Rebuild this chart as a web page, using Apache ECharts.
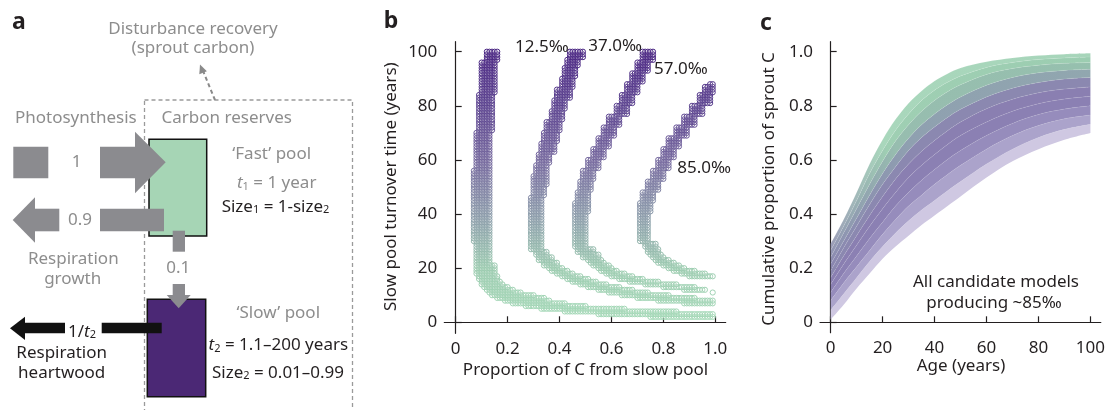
<!DOCTYPE html>
<html>
<head>
<meta charset="utf-8">
<script src="https://cdn.jsdelivr.net/npm/echarts@6/dist/echarts.min.js"></script>
<style>
  html, body { margin: 0; padding: 0; background: #fff; }
  #main { width: 1108px; height: 410px; }
</style>
</head>
<body>
<div id="main"></div>
<script>
// ---- panel b: candidate models, blocks of [t2 from, t2 to, size2 from, size2 to] ----
const band125 = [
  [2, 2, 0.75, 0.99], [3, 3, 0.55, 0.99], [4, 4, 0.42, 0.85], [5, 5, 0.33, 0.65],
  [6, 6, 0.27, 0.50], [7, 7, 0.22, 0.42], [8, 8, 0.19, 0.36], [9, 9, 0.16, 0.34],
  [10, 10, 0.14, 0.30], [11, 11, 0.13, 0.25], [12, 12, 0.12, 0.22], [13, 13, 0.11, 0.20],
  [14, 14, 0.10, 0.18], [15, 15, 0.10, 0.17], [16, 17, 0.09, 0.16], [18, 21, 0.08, 0.15],
  [22, 29, 0.08, 0.13], [30, 56, 0.07, 0.13], [57, 70, 0.08, 0.13], [71, 84, 0.09, 0.14],
  [85, 96, 0.10, 0.15], [97, 100, 0.12, 0.16]
];
const band370 = [
  [7, 7, 0.88, 0.99], [8, 8, 0.78, 0.99], [9, 9, 0.70, 0.92], [10, 10, 0.64, 0.82],
  [11, 11, 0.59, 0.74], [12, 12, 0.55, 0.68], [13, 13, 0.51, 0.63], [14, 14, 0.48, 0.58],
  [15, 15, 0.45, 0.54], [16, 16, 0.43, 0.51], [17, 17, 0.41, 0.48], [18, 18, 0.39, 0.45],
  [19, 19, 0.37, 0.43], [20, 20, 0.36, 0.41], [21, 22, 0.34, 0.39], [23, 24, 0.32, 0.37],
  [25, 26, 0.31, 0.35], [27, 46, 0.29, 0.33], [47, 50, 0.30, 0.34], [51, 54, 0.30, 0.35],
  [55, 58, 0.31, 0.35], [59, 62, 0.32, 0.36], [63, 66, 0.33, 0.38], [67, 70, 0.34, 0.39],
  [71, 74, 0.35, 0.40], [75, 78, 0.37, 0.41], [79, 82, 0.38, 0.42], [83, 86, 0.39, 0.44],
  [87, 90, 0.41, 0.45], [91, 94, 0.42, 0.46], [95, 97, 0.43, 0.47], [98, 100, 0.44, 0.49]
];
const band570 = [
  [11, 11, 0.99, 0.99], [12, 12, 0.88, 0.96], [13, 13, 0.80, 0.92], [14, 14, 0.73, 0.85],
  [15, 15, 0.67, 0.78], [16, 16, 0.63, 0.72], [17, 17, 0.60, 0.68], [18, 18, 0.58, 0.65],
  [19, 19, 0.56, 0.62], [20, 20, 0.55, 0.60], [21, 21, 0.53, 0.59], [22, 22, 0.52, 0.57],
  [23, 23, 0.51, 0.56], [24, 25, 0.49, 0.55], [26, 27, 0.47, 0.53], [28, 40, 0.46, 0.50],
  [41, 44, 0.46, 0.51], [45, 48, 0.47, 0.51], [49, 52, 0.48, 0.52], [53, 56, 0.49, 0.53],
  [57, 60, 0.51, 0.55], [61, 64, 0.53, 0.57], [65, 68, 0.55, 0.59], [69, 72, 0.57, 0.61],
  [73, 76, 0.59, 0.63], [77, 80, 0.62, 0.66], [81, 84, 0.64, 0.68], [85, 88, 0.66, 0.70],
  [89, 92, 0.68, 0.72], [93, 96, 0.70, 0.74], [97, 100, 0.72, 0.76]
];
const band850 = [
  [17, 17, 0.90, 0.99], [18, 18, 0.87, 0.96], [19, 19, 0.84, 0.92], [20, 20, 0.82, 0.88],
  [21, 21, 0.80, 0.86], [22, 22, 0.78, 0.84], [23, 23, 0.77, 0.82], [24, 24, 0.76, 0.80],
  [25, 25, 0.75, 0.79], [26, 27, 0.74, 0.78], [28, 29, 0.73, 0.77], [30, 40, 0.71, 0.74],
  [41, 44, 0.71, 0.75], [45, 48, 0.72, 0.76], [49, 52, 0.74, 0.78], [53, 56, 0.76, 0.80],
  [57, 60, 0.78, 0.82], [61, 64, 0.80, 0.84], [65, 68, 0.82, 0.86], [69, 72, 0.85, 0.89],
  [73, 76, 0.88, 0.92], [77, 80, 0.91, 0.95], [81, 84, 0.94, 0.98], [85, 87, 0.96, 0.99],
  [88, 88, 0.98, 0.99]
];
const bandLabels = ['12.5‰', '37.0‰', '57.0‰', '85.0‰'];
const ticksB_x = [0, 0.2, 0.4, 0.6, 0.8, 1.0];
const ticksB_y = [0, 20, 40, 60, 80, 100];

// ---- panel c: cumulative proportion of sprout C, curves read top to bottom ----
const ages = [0, 5, 10, 15, 20, 25, 30, 35, 40, 45, 50, 60, 70, 80, 90, 100];
const sproutCurves = [
  [0.29, 0.38, 0.48, 0.585, 0.675, 0.75, 0.81, 0.855, 0.892, 0.919, 0.94, 0.963, 0.977, 0.986, 0.991, 0.994],
  [0.265, 0.355, 0.45, 0.55, 0.635, 0.71, 0.77, 0.82, 0.858, 0.887, 0.91, 0.942, 0.96, 0.971, 0.977, 0.98],
  [0.24, 0.33, 0.42, 0.51, 0.595, 0.67, 0.73, 0.78, 0.82, 0.852, 0.878, 0.916, 0.938, 0.95, 0.957, 0.96],
  [0.215, 0.30, 0.385, 0.47, 0.55, 0.62, 0.68, 0.73, 0.77, 0.804, 0.833, 0.876, 0.905, 0.922, 0.931, 0.935],
  [0.19, 0.275, 0.355, 0.435, 0.51, 0.575, 0.635, 0.683, 0.722, 0.757, 0.787, 0.833, 0.865, 0.886, 0.899, 0.905],
  [0.165, 0.245, 0.32, 0.395, 0.465, 0.53, 0.585, 0.632, 0.672, 0.708, 0.74, 0.789, 0.824, 0.848, 0.862, 0.87],
  [0.14, 0.215, 0.285, 0.355, 0.42, 0.48, 0.535, 0.58, 0.62, 0.657, 0.69, 0.74, 0.78, 0.808, 0.825, 0.835],
  [0.11, 0.18, 0.245, 0.31, 0.37, 0.43, 0.48, 0.525, 0.565, 0.602, 0.635, 0.69, 0.735, 0.768, 0.788, 0.80],
  [0.08, 0.145, 0.205, 0.265, 0.325, 0.38, 0.43, 0.47, 0.51, 0.546, 0.58, 0.64, 0.69, 0.727, 0.752, 0.766],
  [0.045, 0.105, 0.165, 0.225, 0.28, 0.33, 0.375, 0.415, 0.45, 0.486, 0.52, 0.585, 0.64, 0.683, 0.713, 0.732],
  [0.01, 0.065, 0.125, 0.18, 0.235, 0.28, 0.32, 0.36, 0.395, 0.43, 0.465, 0.535, 0.595, 0.64, 0.675, 0.70]
];
const ticksC_x = [0, 20, 40, 60, 80, 100];
const ticksC_y = [0, 0.2, 0.4, 0.6, 0.8, 1.0];

const FONT = '"Noto Sans", "DejaVu Sans", sans-serif';
const FS = 17;
const INK = '#231f20';
const GREY = '#8d8d8d';
const ARROW = '#8b8b8f';

function expandBand(blocks) {
  const pts = [];
  blocks.forEach(function (b) {
    for (let t = b[0]; t <= b[1]; t++) {
      for (let k = Math.round(b[2] * 100); k <= Math.round(b[3] * 100); k++) {
        pts.push([k / 100, t]);
      }
    }
  });
  return pts;
}

function ringItem(params, api) {
  const p = api.coord([api.value(0), api.value(1)]);
  return {
    type: 'circle',
    shape: { cx: p[0], cy: p[1], r: 2.6 },
    style: { fill: 'rgba(255,255,255,0.15)', stroke: api.visual('color'), lineWidth: 1 }
  };
}

function grad(stops) {
  return new echarts.graphic.LinearGradient(0, 0, 1, 0,
    stops.map(function (s) { return { offset: s[0], color: s[1] }; }));
}

// colour of the strip between curve i and curve i+1
const stripFills = [
  grad([[0, '#9b9db7'], [0.2, '#a9d7bc'], [1, '#a7d5ba']]),
  grad([[0, '#9294b3'], [0.22, '#9fcfb3'], [1, '#9ccdb1']]),
  grad([[0, '#8c8bb1'], [0.25, '#97bdaf'], [1, '#96c0ae']]),
  grad([[0, '#8a86b0'], [0.3, '#8fa0b0'], [1, '#91a7af']]),
  '#8b88b0', '#8a7fb1', '#8b80b3', '#968cbc', '#aba3cb', '#cfc8e2'
];

const fmtNum = function (v) { return v === 0 ? '0' : (Math.abs(v) < 2 ? v.toFixed(1) : String(v)); };

function axisCommon(ticks) {
  return {
    axisLine: { show: true, lineStyle: { color: INK, width: 1.2 } },
    axisTick: { show: true, inside: true, length: 6, lineStyle: { color: INK, width: 1.2 }, customValues: ticks },
    axisLabel: { color: INK, fontSize: FS, fontFamily: FONT, margin: 7, formatter: fmtNum, customValues: ticks },
    splitLine: { show: false }
  };
}

const series = [];
[band125, band370, band570, band850].forEach(function (b) {
  series.push({
    type: 'custom', xAxisIndex: 0, yAxisIndex: 0,
    data: expandBand(b), encode: { x: 0, y: 1 },
    renderItem: ringItem, silent: true
  });
});
// rows are [proportion, age] so that the stack runs on the proportion;
// the bottom curve is the base and every strip above it is stacked on
const lastIdx = sproutCurves.length - 1;
series.push({
  type: 'line', xAxisIndex: 1, yAxisIndex: 1, stack: 'sprout',
  data: ages.map(function (a, j) { return [sproutCurves[lastIdx][j], a]; }),
  encode: { x: 1, y: 0 },
  smooth: 0.35, showSymbol: false, silent: true, lineStyle: { opacity: 0 }
});
for (let i = lastIdx - 1; i >= 0; i--) {
  series.push({
    type: 'line', xAxisIndex: 1, yAxisIndex: 1, stack: 'sprout',
    data: ages.map(function (a, j) { return [sproutCurves[i][j] - sproutCurves[i + 1][j], a]; }),
    encode: { x: 1, y: 0 },
    smooth: 0.35, showSymbol: false, silent: true,
    lineStyle: { width: 0.5, color: 'rgba(255,255,255,0.2)' },
    areaStyle: { color: stripFills[i], opacity: 1 }
  });
}

function txt(x, y, s, opt) {
  opt = opt || {};
  return {
    type: 'text', x: x, y: y, z: 20, rotation: opt.rot || 0, silent: true,
    style: {
      text: s, fill: opt.color || INK, fontSize: opt.size || FS, fontFamily: FONT,
      fontWeight: opt.weight || 'normal', align: opt.align || 'center', verticalAlign: 'middle',
      rich: opt.rich
    }
  };
}
const subRich = function (col) {
  return {
    n: { fontSize: FS, fontFamily: FONT, fill: col, lineHeight: 22, verticalAlign: 'bottom' },
    i: { fontSize: FS, fontFamily: FONT, fill: col, fontStyle: 'italic', lineHeight: 22, verticalAlign: 'bottom' },
    s: { fontSize: 11, fontFamily: FONT, fill: col, lineHeight: 13, verticalAlign: 'bottom' }
  };
};
function rect(x, y, w, h, fill, stroke) {
  return { type: 'rect', z: 10, silent: true, shape: { x: x, y: y, width: w, height: h },
    style: { fill: fill, stroke: stroke || null, lineWidth: stroke ? 1.5 : 0 } };
}
function poly(pts, fill) {
  return { type: 'polygon', z: 11, silent: true, shape: { points: pts }, style: { fill: fill } };
}

const graphics = [
  // panel letters
  txt(19, 22, 'a', { size: 23, weight: 'bold' }),
  txt(391, 21, 'b', { size: 23, weight: 'bold' }),
  txt(766, 23, 'c', { size: 23, weight: 'bold' }),
  // panel a diagram
  { type: 'rect', z: 5, silent: true, shape: { x: 144.5, y: 100, width: 208, height: 330 },
    style: { fill: 'none', stroke: '#9a9a9a', lineWidth: 1.3, lineDash: [4, 3] } },
  { type: 'line', z: 5, silent: true, shape: { x1: 215, y1: 100, x2: 203.5, y2: 72 },
    style: { stroke: '#8a8a8a', lineWidth: 2, lineDash: [4, 3] } },
  poly([[200, 64.5], [206.9, 71.2], [199.3, 74.2]], '#8a8a8a'),
  rect(149, 139.3, 57.7, 96.7, '#a6d5b5', '#111'),
  rect(147.3, 299.3, 58.4, 97.4, '#4b2875', '#111'),
  rect(13.3, 146.7, 35, 31.6, ARROW), rect(100, 146.7, 35, 31.6, ARROW),
  poly([[135, 131.7], [165.7, 162.3], [135, 193.3]], ARROW),
  poly([[12.7, 220], [35, 197.3], [35, 242.7]], ARROW),
  rect(35, 208.7, 24.3, 22.6, ARROW), rect(100, 208.7, 64, 22.6, ARROW),
  rect(172.7, 230.7, 12.3, 21, ARROW), rect(172.7, 284, 12.3, 11, ARROW),
  poly([[166.7, 295], [190.7, 295], [178.7, 308.3]], ARROW),
  poly([[10, 328.3], [25, 316.7], [25, 340]], '#111'),
  rect(25, 322.7, 40, 10.6, '#111'), rect(101.7, 322.7, 60, 10.6, '#111'),
  txt(193, 29, 'Disturbance recovery', { color: GREY }),
  txt(193, 48.5, '(sprout carbon)', { color: GREY }),
  txt(75.8, 118.3, 'Photosynthesis', { color: GREY }),
  txt(226.7, 118.3, 'Carbon reserves', { color: GREY }),
  txt(76.7, 161.7, '1', { color: GREY }),
  txt(80, 220, '0.9', { color: GREY }),
  txt(271.7, 154, '\u2018Fast\u2019 pool', { color: GREY }),
  txt(276.7, 181, '{i|t}{s|1}{n| = 1 year}', { color: GREY, rich: subRich(GREY) }),
  txt(275.5, 204.5, '{n|Size}{s|1}{n| = 1-size}{s|2}', { rich: subRich(INK) }),
  txt(73.3, 259.3, 'Respiration', { color: GREY }),
  txt(72.7, 279.3, 'growth', { color: GREY }),
  txt(178.3, 268.3, '0.1', { color: GREY }),
  txt(278.3, 313.3, '\u2018Slow\u2019 pool', { color: GREY }),
  txt(278.3, 343, '{i|t}{s|2}{n| = 1.1\u2013200 years}', { rich: subRich(INK) }),
  txt(278, 370.5, '{n|Size}{s|2}{n| = 0.01\u20130.99}', { rich: subRich(INK) }),
  txt(82, 329.5, '{n|1/}{i|t}{s|2}', { rich: subRich(INK) }),
  txt(61.7, 352.7, 'Respiration'),
  txt(61.7, 373.3, 'heartwood'),
  // panel b annotations
  txt(391.5, 186.7, 'Slow pool turnover time (years)', { rot: Math.PI / 2 }),
  txt(585.5, 370, 'Proportion of C from slow pool'),
  txt(515, 47.3, bandLabels[0], { align: 'left' }),
  txt(588.3, 45.7, bandLabels[1], { align: 'left' }),
  txt(654, 69, bandLabels[2], { align: 'left' }),
  txt(677.3, 168.3, bandLabels[3], { align: 'left' }),
  // panel c annotations
  txt(769, 189, 'Cumulative proportion of sprout C', { rot: Math.PI / 2 }),
  txt(961, 366, 'Age (years)'),
  txt(996, 281.7, 'All candidate models'),
  txt(994, 303.3, 'producing ~85\u2030')
];

const chart = echarts.init(document.getElementById('main'));
chart.setOption({
  animation: false,
  backgroundColor: '#fff',
  grid: [
    { left: 444.3, top: 41.7, width: 281.4, height: 291.6 },
    { left: 820, top: 41.7, width: 281.7, height: 291 }
  ],
  xAxis: [
    Object.assign({ type: 'value', gridIndex: 0, min: -0.0439, max: 1.040 }, axisCommon(ticksB_x)),
    Object.assign({ type: 'value', gridIndex: 1, min: -4.1, max: 104 }, axisCommon(ticksC_x))
  ],
  yAxis: [
    Object.assign({ type: 'value', gridIndex: 0, min: -4.07, max: 103.7 }, axisCommon(ticksB_y)),
    Object.assign({ type: 'value', gridIndex: 1, min: -0.0384, max: 1.037 }, axisCommon(ticksC_y))
  ],
  visualMap: {
    type: 'continuous', show: false, dimension: 1, min: 0, max: 100,
    seriesIndex: [0, 1, 2, 3],
    inRange: { color: ['#a6dbb9', '#9dcdb1', '#8c9cab', '#75689e', '#5c4390', '#4a2683'] }
  },
  series: series,
  graphic: { elements: graphics }
});
</script>
</body>
</html>
